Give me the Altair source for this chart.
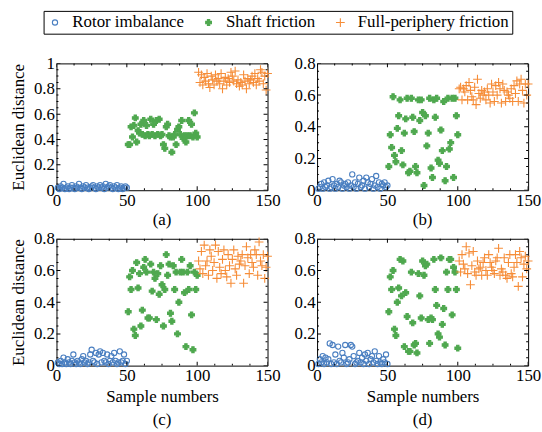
import altair as alt
import pandas as pd

types = ["Rotor imbalance", "Shaft friction", "Full-periphery friction"]
colors = ["#4a7fc1", "#4fa84f", "#f68d38"]
fills = ["transparent", "#4fa84f", "transparent"]
shapes = ["circle", "cross", "M-1.4,0L1.4,0M0,-1.4L0,1.4"]
sizes = [28, 40, 32]

x_blue = list(range(1, 51))
x_green = list(range(51, 101))
x_orange = list(range(101, 151))

a_blue = [0.02,0.01,0.03,0.02,0.05,0.01,0.02,0.03,0.01,0.02,0.04,0.02,0.01,0.03,0.02,0.05,0.02,0.01,0.03,0.02,
          0.04,0.02,0.01,0.02,0.03,0.04,0.02,0.01,0.03,0.02,0.04,0.02,0.03,0.01,0.05,0.02,0.03,0.04,0.02,0.01,
          0.03,0.02,0.04,0.01,0.02,0.03,0.01,0.02,0.03,0.02]
a_green = [0.36,0.36,0.50,0.42,0.51,0.57,0.38,0.47,0.45,0.52,0.44,0.55,0.43,0.51,0.44,0.43,0.56,0.44,0.52,0.43,
           0.55,0.44,0.56,0.43,0.44,0.36,0.33,0.50,0.52,0.43,0.42,0.30,0.42,0.44,0.36,0.48,0.50,0.44,0.55,0.41,
           0.43,0.38,0.43,0.55,0.43,0.52,0.42,0.61,0.45,0.42]
a_orange = [0.93,0.85,0.91,0.83,0.89,0.86,0.92,0.84,0.81,0.90,0.87,0.83,0.91,0.86,0.88,0.84,0.92,0.80,0.86,0.89,
            0.83,0.88,0.85,0.93,0.90,0.86,0.94,0.84,0.87,0.82,0.85,0.83,0.91,0.86,0.80,0.88,0.84,0.87,0.90,0.85,
            0.92,0.83,0.88,0.86,0.95,0.93,0.84,0.90,0.79,0.92]

b_blue = [0.01,0.02,0.04,0.01,0.05,0.02,0.03,0.06,0.01,0.02,0.07,0.03,0.01,0.04,0.02,0.06,0.05,0.01,0.03,0.04,
          0.02,0.05,0.01,0.03,0.10,0.02,0.05,0.01,0.04,0.08,0.02,0.03,0.06,0.01,0.08,0.05,0.02,0.04,0.07,0.01,
          0.03,0.09,0.02,0.05,0.01,0.04,0.03,0.05,0.02,0.03]
b_green = [0.15,0.35,0.27,0.59,0.22,0.18,0.39,0.47,0.57,0.25,0.16,0.36,0.45,0.58,0.11,0.12,0.58,0.46,0.37,0.15,
           0.11,0.57,0.44,0.57,0.49,0.03,0.47,0.28,0.36,0.58,0.14,0.08,0.57,0.46,0.58,0.19,0.17,0.38,0.25,0.56,
           0.06,0.15,0.58,0.26,0.30,0.58,0.08,0.58,0.47,0.35]
b_orange = [0.64,0.65,0.57,0.64,0.62,0.66,0.57,0.68,0.63,0.59,0.57,0.65,0.54,0.70,0.61,0.58,0.63,0.60,0.62,0.57,
            0.64,0.60,0.55,0.67,0.62,0.56,0.66,0.60,0.68,0.64,0.55,0.67,0.63,0.56,0.62,0.60,0.58,0.64,0.56,0.66,
            0.61,0.69,0.56,0.67,0.70,0.63,0.55,0.67,0.60,0.67]

c_blue = [0.02,0.01,0.03,0.01,0.05,0.02,0.01,0.04,0.02,0.01,0.03,0.07,0.02,0.01,0.03,0.02,0.01,0.04,0.06,0.02,
          0.03,0.01,0.02,0.07,0.10,0.03,0.02,0.08,0.01,0.07,0.09,0.02,0.08,0.03,0.02,0.07,0.01,0.03,0.06,0.02,
          0.08,0.03,0.01,0.02,0.09,0.02,0.03,0.07,0.01,0.03]
c_green = [0.34,0.56,0.48,0.60,0.23,0.19,0.65,0.49,0.58,0.25,0.35,0.62,0.67,0.59,0.30,0.30,0.64,0.47,0.59,0.55,
           0.29,0.58,0.45,0.63,0.51,0.25,0.48,0.70,0.57,0.64,0.33,0.28,0.63,0.48,0.59,0.20,0.40,0.59,0.67,0.59,
           0.46,0.12,0.59,0.48,0.63,0.32,0.10,0.59,0.48,0.57]
c_orange = [0.66,0.61,0.72,0.58,0.76,0.63,0.66,0.57,0.73,0.69,0.60,0.65,0.76,0.55,0.72,0.62,0.58,0.67,0.73,0.60,
            0.56,0.70,0.63,0.52,0.67,0.73,0.61,0.57,0.69,0.64,0.66,0.70,0.52,0.63,0.75,0.68,0.58,0.70,0.65,0.62,
            0.73,0.70,0.57,0.78,0.66,0.63,0.70,0.55,0.62,0.69]

d_blue = [0.01,0.04,0.02,0.06,0.01,0.05,0.02,0.04,0.14,0.01,0.13,0.02,0.07,0.01,0.12,0.03,0.02,0.08,0.05,0.13,
          0.01,0.02,0.04,0.13,0.12,0.06,0.01,0.02,0.03,0.08,0.02,0.05,0.01,0.07,0.03,0.08,0.01,0.04,0.06,0.02,
          0.09,0.03,0.01,0.06,0.02,0.01,0.04,0.02,0.07,0.01]
d_green = [0.34,0.56,0.48,0.60,0.23,0.19,0.40,0.49,0.67,0.44,0.66,0.12,0.46,0.31,0.09,0.09,0.59,0.27,0.13,0.14,
           0.08,0.58,0.44,0.30,0.66,0.57,0.63,0.64,0.29,0.14,0.30,0.29,0.67,0.48,0.38,0.20,0.18,0.68,0.26,0.36,
           0.13,0.59,0.48,0.67,0.67,0.32,0.62,0.59,0.48,0.11]
d_orange = [0.66,0.59,0.70,0.64,0.61,0.75,0.58,0.71,0.51,0.63,0.72,0.59,0.57,0.66,0.61,0.62,0.57,0.65,0.68,0.60,
            0.57,0.70,0.65,0.62,0.60,0.58,0.66,0.68,0.74,0.57,0.61,0.59,0.68,0.57,0.55,0.65,0.70,0.58,0.56,0.62,
            0.70,0.65,0.50,0.72,0.68,0.56,0.64,0.69,0.61,0.66]

panels = {
    "a": (a_blue, a_green, a_orange),
    "b": (b_blue, b_green, b_orange),
    "c": (c_blue, c_green, c_orange),
    "d": (d_blue, d_green, d_orange),
}

rows = []
for key, series in panels.items():
    for t, xs, ys in zip(types, (x_blue, x_green, x_orange), series):
        for xv, yv in zip(xs, ys):
            rows.append({"panel": key, "x": xv, "y": yv, "type": t})
df = pd.DataFrame(rows)

# frame tick positions: major every 50 / 0.2, minor subdivisions
x_major = [0, 50, 100, 150]
x_minor = [12.5, 25, 37.5, 62.5, 75, 87.5, 112.5, 125, 137.5]

FONT = "Liberation Serif"
FS = 17
W, H = 213, 128


def panel(key, ymax, ytitle, xtitle, cap):
    yvals = [round(i * 0.2, 1) for i in range(int(round(ymax / 0.2)) + 1)]
    nminor = int(round(ymax / 0.05))
    y_minor = [round(i * 0.05, 2) for i in range(nminor + 1) if i % 4 != 0]
    common = dict(grid=False, ticks=False, labelPadding=2, labelFlush=False, domain=False,
                  labelFont=FONT, labelFontSize=FS, labelColor="black",
                  titleFont=FONT, titleFontSize=FS, titleFontWeight="normal", titleColor="black")
    xaxis = dict(values=x_major, titlePadding=5, **common)
    xaxis["title"] = xtitle if xtitle else None
    yaxis = dict(values=yvals, format=".1~f", titlePadding=6, **common)
    yaxis["title"] = ytitle if ytitle else None
    xs = alt.Scale(domain=[0, 150], nice=False)
    ys = alt.Scale(domain=[0, ymax], nice=False)

    pts = alt.Chart(df[df.panel == key]).mark_point(strokeWidth=1.1, opacity=1).encode(
        x=alt.X("x:Q", scale=xs, axis=alt.Axis(**xaxis)),
        y=alt.Y("y:Q", scale=ys, axis=alt.Axis(**yaxis)),
        stroke=alt.Stroke("type:N", scale=alt.Scale(domain=types, range=colors), title=None),
        fill=alt.Fill("type:N", scale=alt.Scale(domain=types, range=fills), title=None),
        shape=alt.Shape("type:N", scale=alt.Scale(domain=types, range=shapes), title=None),
        size=alt.Size("type:N", scale=alt.Scale(domain=types, range=sizes), title=None),
    )

    def tick_x(vals, ypix, ln):
        return alt.Chart(pd.DataFrame({"v": vals})).mark_tick(
            color="black", thickness=1, clip=True, opacity=1, size=ln
        ).encode(x=alt.X("v:Q", scale=xs, axis=alt.Axis(**xaxis)), y=alt.value(ypix))

    def tick_y(vals, xpix, ln):
        return alt.Chart(pd.DataFrame({"v": vals})).mark_tick(
            color="black", thickness=1, clip=True, opacity=1, size=ln
        ).encode(y=alt.Y("v:Q", scale=ys, axis=alt.Axis(**yaxis)), x=alt.value(xpix))

    layers = [pts]
    for ypix in (0, H):
        layers.append(tick_x(x_major, ypix, 8))
        layers.append(tick_x(x_minor, ypix, 4))
    for xpix in (0, W):
        layers.append(tick_y(yvals, xpix, 8))
        layers.append(tick_y(y_minor, xpix, 4))

    return alt.layer(
        *layers,
        title=alt.TitleParams(text=cap, orient="bottom", font=FONT, fontSize=FS,
                              fontWeight="normal", offset=(8 if xtitle else 4)),
    ).properties(width=W, height=H)


top = alt.hconcat(
    panel("a", 1.0, "Euclidean distance", None, "(a)"),
    panel("b", 0.8, None, None, "(b)"),
    spacing=12,
)
bottom = alt.hconcat(
    panel("c", 0.8, "Euclidean distance", "Sample numbers", "(c)"),
    panel("d", 0.8, None, "Sample numbers", "(d)"),
    spacing=12,
)

chart = alt.vconcat(top, bottom, spacing=0).properties(
    padding={"left": 9, "top": 8, "right": 0, "bottom": 0}
).configure(font=FONT).configure_view(
    stroke="black", strokeWidth=1
).configure_legend(
    orient="none", legendX=-13, legendY=-53, direction="horizontal",
    strokeColor="black", fillColor="white", padding=3,
    labelFont=FONT, labelFontSize=FS, labelColor="black",
    symbolStrokeWidth=1.1, columnPadding=16, labelOffset=9,
    symbolOpacity=1,
)

chart.save("out.html", embed_options={"renderer": "svg", "actions": False})
